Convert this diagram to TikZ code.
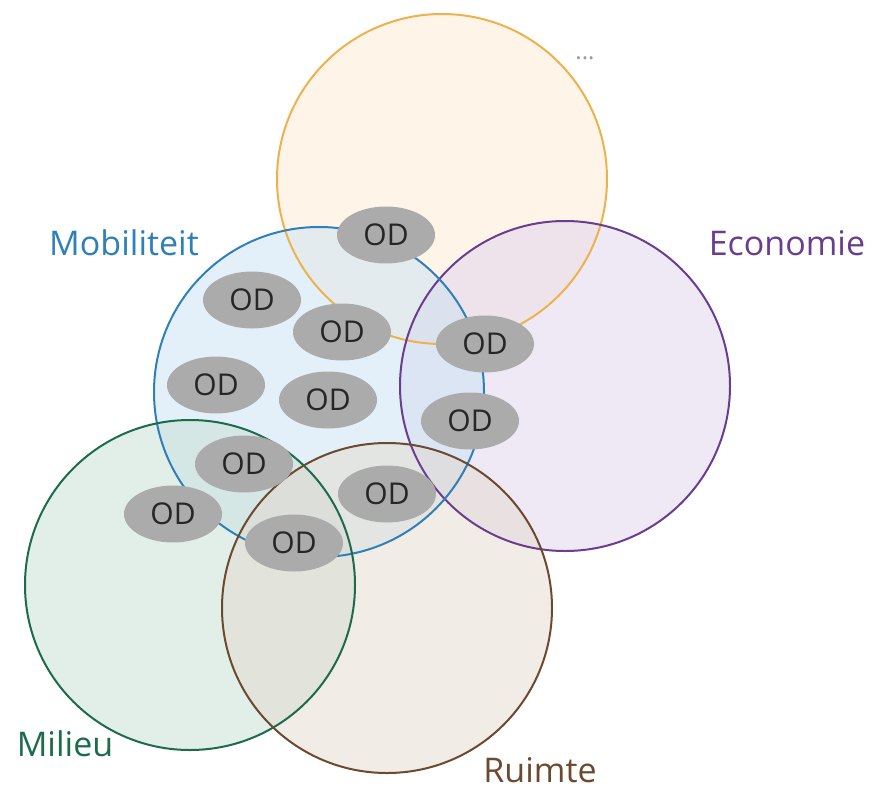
\documentclass[tikz,border=0pt]{standalone}
\usepackage{fontspec}
\setmainfont{Open Sans}
\definecolor{orStroke}{HTML}{EDB24E}
\definecolor{orFill}{HTML}{FDEBD2}
\definecolor{blStroke}{HTML}{2F80B8}
\definecolor{blFill}{HTML}{C9E2F4}
\definecolor{puStroke}{HTML}{6A3D8F}
\definecolor{puFill}{HTML}{E0D2EC}
\definecolor{grStroke}{HTML}{1C6B4C}
\definecolor{grFill}{HTML}{C6DED2}
\definecolor{brStroke}{HTML}{6B4A2F}
\definecolor{brFill}{HTML}{E3D9CE}
\definecolor{odFill}{HTML}{ABABAB}
\definecolor{dotsCol}{HTML}{9A9A9A}
\tikzset{
  venn/.style={circle, minimum size=330pt, inner sep=0pt, fill opacity=0.5},
  ring/.style={line width=2pt},
  od/.style={ellipse, fill=odFill, minimum width=98pt, minimum height=57pt, inner sep=0pt,
             font=\fontsize{30}{30}\selectfont, text=black!85},
  lbl/.style={font=\fontsize{34}{34}\selectfont, inner sep=0pt}
}
\usetikzlibrary{shapes.geometric}
\begin{document}
\begin{tikzpicture}[x=1pt,y=-1pt]
\useasboundingbox (0,0) rectangle (872,792);
\node[venn, fill=orFill] (orange) at (442,179) {};
\node[venn, fill=puFill] (purple) at (565,386) {};
\node[venn, fill=blFill] (blue) at (319,392) {};
\node[venn, fill=grFill] (green) at (190,585) {};
\node[venn, fill=brFill] (brown) at (387,608) {};
\draw[ring, orStroke] (orange.center) circle[radius=165pt];
\draw[ring, puStroke] (purple.center) circle[radius=165pt];
\draw[ring, blStroke] (blue.center) circle[radius=165pt];
\draw[ring, grStroke] (green.center) circle[radius=165pt];
\draw[ring, brStroke] (brown.center) circle[radius=165pt];
% labels
\node[lbl, text=dotsCol, font=\fontsize{24}{24}\selectfont] (dots) at (585,58) {...};
\node[lbl, text=blStroke] (mob) at (124,243) {Mobiliteit};
\node[lbl, text=puStroke] (eco) at (787,243) {Economie};
\node[lbl, text=grStroke] (mil) at (65,744) {Milieu};
\node[lbl, text=brStroke] (rui) at (540,770) {Ruimte};
% OD ellipses
\node[od] (od1) at (386,235) {OD};
\node[od] (od2) at (252,300) {OD};
\node[od] (od3) at (342,332) {OD};
\node[od] (od4) at (485,344) {OD};
\node[od] (od5) at (216,385) {OD};
\node[od] (od6) at (328,400) {OD};
\node[od] (od7) at (470,421) {OD};
\node[od] (od8) at (244,464) {OD};
\node[od] (od9) at (387,494) {OD};
\node[od] (od10) at (173,514) {OD};
\node[od] (od11) at (294,543) {OD};
\end{tikzpicture}
\end{document}
